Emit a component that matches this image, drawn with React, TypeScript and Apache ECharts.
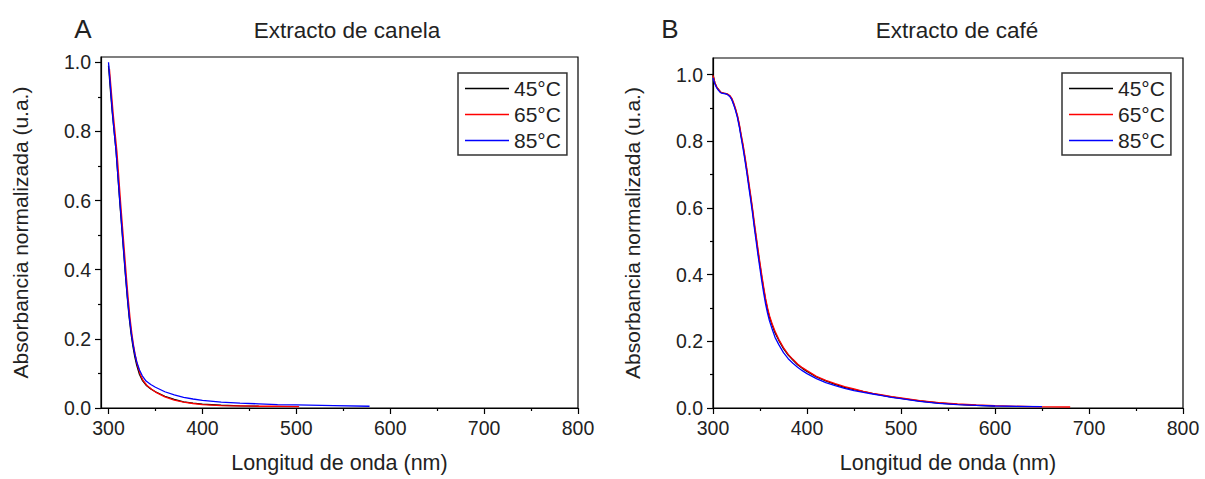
import React, { useEffect, useRef } from 'react';
import * as echarts from 'echarts';

// ---------- Data: A – Extracto de canela ----------
const canelaWl45 = [300, 302, 304, 306, 308, 310, 312, 314, 316, 318, 320, 322, 324, 326, 328, 330, 333, 336, 340, 345, 350, 360, 370, 380, 390, 400, 420, 440, 460];
const canelaAbs45 = [0.99, 0.92, 0.855, 0.8, 0.745, 0.67, 0.595, 0.525, 0.455, 0.385, 0.32, 0.262, 0.215, 0.178, 0.148, 0.124, 0.097, 0.08, 0.066, 0.055, 0.047, 0.034, 0.025, 0.018, 0.014, 0.011, 0.008, 0.006, 0.005];

const canelaWl65 = [301, 303, 305, 307, 309, 311, 313, 315, 317, 319, 321, 323, 325, 327, 329, 331, 334, 337, 341, 346, 350, 360, 370, 380, 390, 400, 420, 440, 460, 480, 503];
const canelaAbs65 = [0.98, 0.915, 0.85, 0.795, 0.74, 0.665, 0.59, 0.52, 0.45, 0.38, 0.315, 0.258, 0.212, 0.175, 0.146, 0.122, 0.096, 0.079, 0.065, 0.054, 0.046, 0.032, 0.023, 0.017, 0.013, 0.01, 0.007, 0.006, 0.005, 0.005, 0.004];

const canelaWl85 = [300, 302, 304, 306, 308, 310, 312, 314, 316, 318, 320, 322, 324, 326, 328, 330, 333, 336, 340, 345, 350, 360, 370, 380, 390, 400, 420, 440, 460, 480, 500, 540, 578];
const canelaAbs85 = [1.0, 0.93, 0.86, 0.8, 0.745, 0.672, 0.6, 0.53, 0.46, 0.39, 0.325, 0.268, 0.222, 0.186, 0.157, 0.134, 0.11, 0.093, 0.078, 0.068, 0.06, 0.047, 0.038, 0.031, 0.026, 0.022, 0.017, 0.014, 0.012, 0.01, 0.009, 0.007, 0.005];

// ---------- Data: B – Extracto de café ----------
const cafeWl45 = [300, 302, 304, 306, 308, 310, 312, 314, 316, 318, 320, 322, 324, 326, 328, 330, 332, 334, 336, 338, 340, 342, 344, 346, 348, 350, 352, 354, 356, 358, 360, 363, 366, 370, 375, 380, 385, 390, 395, 400, 410, 420, 430, 440, 450, 460, 470, 480, 490, 500, 520, 540, 560, 580, 600];
const cafeAbs45 = [1.0, 0.975, 0.962, 0.955, 0.948, 0.945, 0.944, 0.943, 0.94, 0.936, 0.927, 0.912, 0.895, 0.875, 0.848, 0.815, 0.785, 0.749, 0.712, 0.672, 0.634, 0.594, 0.548, 0.508, 0.466, 0.428, 0.39, 0.355, 0.322, 0.296, 0.273, 0.248, 0.226, 0.203, 0.178, 0.159, 0.144, 0.13, 0.119, 0.11, 0.093, 0.081, 0.071, 0.062, 0.055, 0.049, 0.043, 0.038, 0.033, 0.029, 0.021, 0.015, 0.011, 0.008, 0.006];

const cafeWl65 = [300, 302, 304, 306, 308, 310, 312, 314, 316, 318, 320, 322, 324, 326, 328, 330, 332, 334, 336, 338, 340, 342, 344, 346, 348, 350, 352, 354, 356, 358, 360, 363, 366, 370, 375, 380, 385, 390, 395, 400, 410, 420, 430, 440, 450, 460, 470, 480, 490, 500, 520, 540, 560, 580, 600, 640, 680];
const cafeAbs65 = [0.998, 0.976, 0.963, 0.955, 0.948, 0.945, 0.944, 0.943, 0.941, 0.937, 0.929, 0.915, 0.898, 0.878, 0.852, 0.82, 0.79, 0.755, 0.718, 0.679, 0.64, 0.6, 0.556, 0.515, 0.474, 0.435, 0.397, 0.361, 0.328, 0.301, 0.278, 0.252, 0.23, 0.206, 0.181, 0.161, 0.146, 0.132, 0.121, 0.112, 0.095, 0.083, 0.073, 0.064, 0.057, 0.05, 0.044, 0.039, 0.034, 0.03, 0.022, 0.016, 0.012, 0.009, 0.007, 0.004, 0.003];

const cafeWl85 = [300, 302, 304, 306, 308, 310, 312, 314, 316, 318, 320, 322, 324, 326, 328, 330, 332, 334, 336, 338, 340, 342, 344, 346, 348, 350, 352, 354, 356, 358, 360, 363, 366, 370, 375, 380, 385, 390, 395, 400, 410, 420, 430, 440, 450, 460, 470, 480, 490, 500, 520, 540, 560, 580, 600, 650];
const cafeAbs85 = [0.99, 0.972, 0.96, 0.952, 0.946, 0.944, 0.943, 0.942, 0.939, 0.934, 0.925, 0.91, 0.892, 0.871, 0.843, 0.81, 0.778, 0.743, 0.705, 0.665, 0.626, 0.585, 0.54, 0.498, 0.456, 0.417, 0.378, 0.343, 0.311, 0.285, 0.262, 0.236, 0.212, 0.19, 0.166, 0.148, 0.134, 0.122, 0.112, 0.103, 0.088, 0.076, 0.067, 0.059, 0.052, 0.047, 0.042, 0.037, 0.032, 0.028, 0.02, 0.014, 0.01, 0.008, 0.006, 0.004];

// ---------- Labels / ticks ----------
const seriesNames = ['45°C', '65°C', '85°C'];
const seriesColors = ['#000000', '#ff0000', '#0000ff'];
const xMajorTicks = [300, 400, 500, 600, 700, 800];
const xMinorTicks = [350, 450, 550, 650, 750];
const yMajorTicks = [0, 0.2, 0.4, 0.6, 0.8, 1.0];
const yMinorTicks = [0.1, 0.3, 0.5, 0.7, 0.9];
const panelTitles = ['Extracto de canela', 'Extracto de café'];
const panelLetters = ['A', 'B'];
const xTitle = 'Longitud de onda (nm)';
const yTitle = 'Absorbancia normalizada (u.a.)';

const FONT = "'Liberation Sans', Arial, sans-serif";
const TXT = '#222';

const zip = (x: number[], y: number[]) => x.map((v, i) => [v, y[i]]);

function mainX(grid: number, min: number) {
  return {
    type: 'value', gridIndex: grid, min, max: 800, position: 'bottom',
    axisLine: { show: true, onZero: false, lineStyle: { color: '#000', width: 1.2 } },
    axisTick: { show: true, inside: false, length: 6, customValues: xMajorTicks, lineStyle: { color: '#000', width: 1.2 } },
    axisLabel: { show: true, customValues: xMajorTicks, margin: 10, fontSize: 19.5, color: TXT, fontFamily: FONT },
    splitLine: { show: false },
    name: xTitle, nameLocation: 'middle', nameGap: 44,
    nameTextStyle: { fontSize: 21.5, color: TXT, fontFamily: FONT },
  };
}
function minorX(grid: number, min: number) {
  return {
    type: 'value', gridIndex: grid, min, max: 800, position: 'bottom',
    axisLine: { show: false },
    axisTick: { show: true, inside: false, length: 3, customValues: xMinorTicks, lineStyle: { color: '#000', width: 1.2 } },
    axisLabel: { show: false },
    splitLine: { show: false },
  };
}
function mainY(grid: number, max: number) {
  return {
    type: 'value', gridIndex: grid, min: 0, max, position: 'left',
    axisLine: { show: true, onZero: false, lineStyle: { color: '#000', width: 1.2 } },
    axisTick: { show: true, inside: false, length: 6, customValues: yMajorTicks, lineStyle: { color: '#000', width: 1.2 } },
    axisLabel: { show: true, customValues: yMajorTicks, margin: 10, fontSize: 19.5, color: TXT, fontFamily: FONT, formatter: (v: number) => v.toFixed(1) },
    splitLine: { show: false },
    name: yTitle, nameLocation: 'middle', nameGap: 70, nameRotate: 90,
    nameTextStyle: { fontSize: 21, color: TXT, fontFamily: FONT },
  };
}
function minorY(grid: number, max: number) {
  return {
    type: 'value', gridIndex: grid, min: 0, max, position: 'left',
    axisLine: { show: false },
    axisTick: { show: true, inside: false, length: 3, customValues: yMinorTicks, lineStyle: { color: '#000', width: 1.2 } },
    axisLabel: { show: false },
    splitLine: { show: false },
  };
}

function legend(left: number) {
  return {
    orient: 'vertical', left, top: 73,
    data: seriesNames,
    icon: 'rect', itemWidth: 44, itemHeight: 1.5, itemGap: 5,
    padding: [5, 6, 4, 7],
    borderColor: '#333', borderWidth: 1.5, backgroundColor: '#fff',
    textStyle: { fontSize: 21, color: TXT, fontFamily: FONT },
    selectedMode: false,
  };
}

function line(name: string, color: string, xi: number, yi: number, data: number[][]) {
  return {
    type: 'line', name, xAxisIndex: xi, yAxisIndex: yi, data,
    symbol: 'none', color, lineStyle: { color, width: 1.3 },
  };
}

export default function App() {
  const ref = useRef<HTMLDivElement>(null);
  useEffect(() => {
    if (!ref.current) return;
    const chart = echarts.init(ref.current, null, { renderer: 'svg' });
    const canela = [zip(canelaWl45, canelaAbs45), zip(canelaWl65, canelaAbs65), zip(canelaWl85, canelaAbs85)];
    const cafe = [zip(cafeWl45, cafeAbs45), zip(cafeWl65, cafeAbs65), zip(cafeWl85, cafeAbs85)];
    const titleStyle = { fontSize: 22.5, fontWeight: 'normal', color: TXT, fontFamily: FONT };
    const letterStyle = { fontSize: 26, fontWeight: 'normal', color: TXT, fontFamily: FONT };
    chart.setOption({
      animation: false,
      backgroundColor: '#fff',
      title: [
        { text: panelTitles[0], left: 342, top: 14, textAlign: 'center', textStyle: titleStyle },
        { text: panelTitles[1], left: 952, top: 14, textAlign: 'center', textStyle: titleStyle },
        { text: panelLetters[0], left: 78, top: 11, textAlign: 'center', textStyle: letterStyle },
        { text: panelLetters[1], left: 665, top: 11, textAlign: 'center', textStyle: letterStyle },
      ],
      legend: [legend(458), legend(1062)],
      grid: [
        { left: 101, top: 57, right: 1205 - 578, bottom: 479 - 412, show: true, borderColor: '#000', borderWidth: 1.2, backgroundColor: 'transparent' },
        { left: 713, top: 58, right: 1205 - 1183, bottom: 479 - 413, show: true, borderColor: '#000', borderWidth: 1.2, backgroundColor: 'transparent' },
      ],
      xAxis: [mainX(0, 292), minorX(0, 292), mainX(1, 300), minorX(1, 300)],
      yAxis: [mainY(0, 1.015), minorY(0, 1.015), mainY(1, 1.05), minorY(1, 1.05)],
      series: [
        ...seriesNames.map((n, i) => line(n, seriesColors[i], 0, 0, canela[i])),
        ...seriesNames.map((n, i) => line(n, seriesColors[i], 2, 2, cafe[i])),
      ],
    });
    return () => chart.dispose();
  }, []);
  return <div ref={ref} style={{ position: 'fixed', left: 0, top: 0, width: 1205, height: 479 }} />;
}
